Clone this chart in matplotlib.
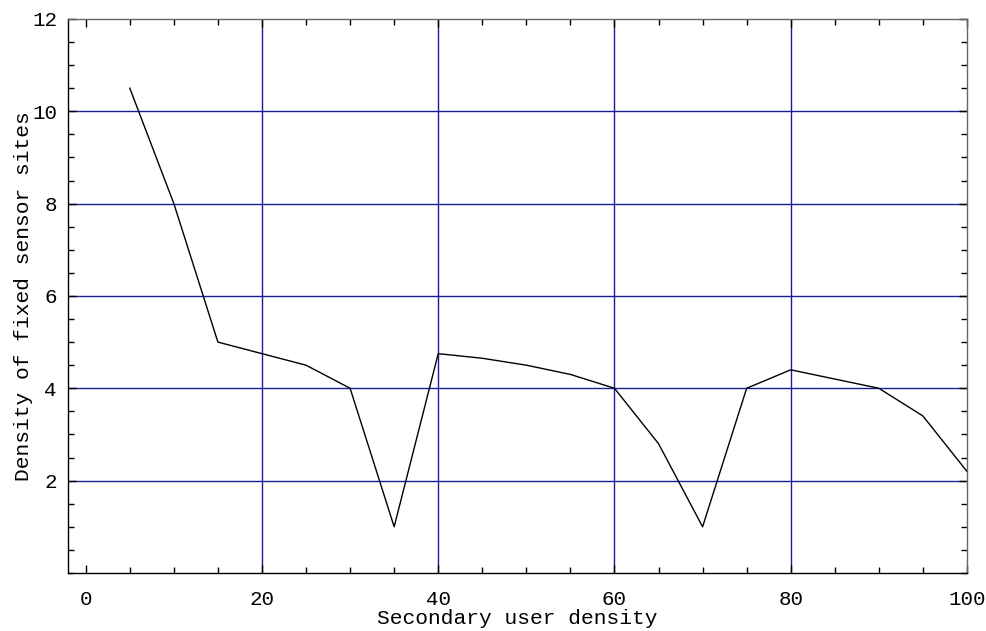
import matplotlib
matplotlib.use("Agg")
import matplotlib.pyplot as plt
from matplotlib.ticker import MultipleLocator

# 数据
user_density = [5, 10, 15, 20, 25, 30, 35, 40, 45, 50, 55, 60, 65, 70, 75, 80, 85, 90, 95, 100]
sensor_density = [10.5, 8.0, 5.0, 4.75, 4.5, 4.0, 1.0, 4.75, 4.65, 4.5, 4.3, 4.0, 2.8, 1.0, 4.0, 4.4, 4.2, 4.0, 3.4, 2.2]

plt.rcParams['font.family'] = ['Liberation Mono', 'DejaVu Sans Mono']

fig = plt.figure(figsize=(9.87, 6.31), dpi=100)
ax = fig.add_axes([0.069, 0.092, 0.9107, 0.878])

grid_color = "#1c1c96"
for gx in [20, 40, 60, 80]:
    ax.axvline(gx, color=grid_color, lw=1.0, zorder=1)
for gy in [2, 4, 6, 8, 10]:
    ax.axhline(gy, color=grid_color, lw=1.0, zorder=1)

ax.plot(user_density, sensor_density, color="black", lw=1.0, zorder=3)

ax.set_xlim(-2, 100)
ax.set_ylim(0, 12)
ax.xaxis.set_major_locator(MultipleLocator(20))
ax.xaxis.set_minor_locator(MultipleLocator(5))
ax.yaxis.set_minor_locator(MultipleLocator(0.5))
ax.set_yticks([2, 4, 6, 8, 10, 12])

ax.tick_params(which="both", direction="in", top=True, right=True, labelsize=15, width=1.0)
ax.tick_params(which="major", length=6)
ax.tick_params(which="minor", length=4)
ax.tick_params(axis="x", which="major", pad=12)
ax.tick_params(axis="y", which="major", pad=8)

for s in ["top", "right"]:
    ax.spines[s].set_color("#666666")
for s in ax.spines.values():
    s.set_linewidth(1.0)

ax.set_xlabel("Secondary user density", fontsize=15.3, labelpad=0)
ax.set_ylabel("Density of fixed sensor sites", fontsize=15.3, labelpad=-1)

fig.savefig("out.png", dpi=100)
